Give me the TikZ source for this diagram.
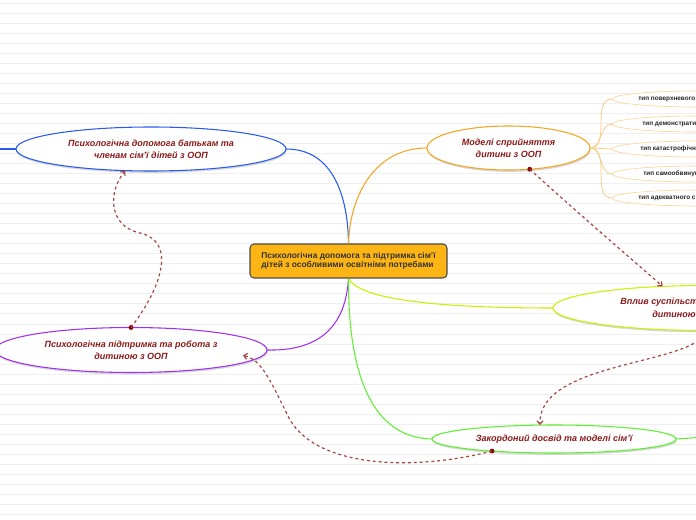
\documentclass[tikz,border=0pt]{standalone}
\usepackage{fontspec}
\setmainfont{Liberation Sans}
\usetikzlibrary{shapes.geometric,shadows,arrows.meta}
\definecolor{topicfill}{HTML}{FDB515}
\definecolor{topictext}{HTML}{8B1A1A}
\definecolor{relcol}{HTML}{A84444}
\definecolor{relpoint}{HTML}{8B0000}
\definecolor{brblue}{HTML}{2A5BF0}
\definecolor{brorange}{HTML}{F5A623}
\definecolor{brlime}{HTML}{CCF000}
\definecolor{brpurple}{HTML}{A030F0}
\definecolor{brgreen}{HTML}{5EF030}
\definecolor{paperline}{HTML}{EFEFEF}
\begin{document}
\begin{tikzpicture}[x=0.75pt,y=-0.75pt,
  topic/.style={ellipse,draw,fill=white,line width=0.8pt,inner sep=0pt,outer sep=0pt,align=center,
    text=topictext,font=\fontsize{6.75}{9}\selectfont\bfseries\itshape,
    drop shadow={shadow xshift=0.5pt,shadow yshift=-1.4pt,fill=black!30}},
  subtopic/.style={ellipse,draw=brorange!45,line width=0.5pt,fill=white,inner sep=0pt,outer sep=0pt,
    minimum width=127.5pt,minimum height=12pt},
  sublabel/.style={anchor=west,inner sep=0pt,font=\fontsize{4.8}{5.5}\selectfont\bfseries,text=black!85},
  topiclabel/.style={anchor=west,inner sep=0pt,text=topictext,font=\fontsize{6.75}{9}\selectfont\bfseries\itshape},
  branch/.style={line width=0.8pt},
  relation/.style={relcol,dash pattern=on 2.2pt off 2.2pt,line width=0.9pt,
    -{Straight Barb[length=2.5pt,width=4.5pt]}},
  startdot/.style={circle,fill=relpoint,inner sep=0pt,minimum size=3.6pt}]
\useasboundingbox (0,0) rectangle (696,520);
\clip (0,0) rectangle (696,520);
\fill[white] (0,0) rectangle (696,520);
\foreach \y in {4,14,...,514}
  \draw[paperline,line width=0.75pt] (0,\y) -- (696,\y);

% central topic
\node[rectangle,rounded corners=3pt,draw=black!70,fill=topicfill,line width=0.8pt,
  minimum width=147.75pt,minimum height=25.5pt,align=left,text=black!80,
  font=\fontsize{6.3}{7}\selectfont\bfseries] (main) at (348.5,261)
  {Психологічна допомога та підтримка сім'ї\\дітей з особливими освітніми потребами};

% main topics
\node[topic,draw=brblue,minimum width=202.5pt,minimum height=33pt] (parents) at (151,149)
  {Психологічна допомога батькам та\\членам сім'ї дітей з ООП};
\node[topic,draw=brorange,minimum width=122.25pt,minimum height=33pt] (models) at (508.5,148)
  {Моделі сприйняття\\дитини з ООП};
\node[topic,draw=brlime,minimum width=228pt,minimum height=33.75pt] (society) at (705,308) {};
\node[topiclabel] (societytop) at (620,302) {Вплив суспільст};
\node[topiclabel] (societybot) at (652,314) {дитиною};
\node[topic,draw=brpurple,minimum width=204pt,minimum height=33.75pt] (support) at (131,350)
  {Психологічна підтримка та робота з\\дитиною з ООП};
\node[topic,draw=brgreen,minimum width=183pt,minimum height=21pt] (abroad) at (554,439)
  {Закордоний досвід та моделі сім'ї};

% branches
\coordinate (bluefar) at (-10,149);
\coordinate (greenfar) at (706,437);
\draw[branch,brblue] (parents.east) .. controls (335,149) and (348,200) .. (main.north);
\draw[branch,brblue] (parents.west) -- (bluefar);
\draw[branch,brorange] (models.west) .. controls (375,148) and (350,195) .. (main.north);
\draw[branch,brlime] (main.south) .. controls (360,300) and (440,308) .. (society.west);
\draw[branch,brpurple] (main.south) .. controls (345,335) and (310,351) .. (support.east);
\draw[branch,brgreen] (main.south) .. controls (348,390) and (380,438) .. (abroad.west);
\draw[branch,brgreen] (abroad.east) -- (greenfar);

% subtopics of models
\foreach \y/\n/\t/\x in {99/sub1/тип поверхневого/638,124/sub2/тип демонстратив/642,
    149/sub3/тип катастрофічн/640,174/sub4/тип самообвинув/643,198/sub5/тип адекватного с/638}{
  \node[subtopic] (\n) at (697,\y) {};
  \node[sublabel] (\n txt) at (\x,\y) {\t};
  \draw[brorange!55,line width=0.6pt] (models.east) to[out=0,in=180] (\n.west);
}

% relations
\node[startdot] (dot1) at (support.north) {};
\draw[relation] (support.north) .. controls (160,290) and (178,242) .. (140,233)
  .. controls (108,226) and (108,192) .. (parents.220);
\node[startdot] (dot2) at (models.315) {};
\draw[relation] (models.315) .. controls (580,215) and (635,262) .. (society.153);
\draw[relation] (society.south) .. controls (700,365) and (538,360) .. (abroad.135);
\node[startdot] (dot4) at (abroad.191) {};
\draw[relation] (abroad.191) .. controls (420,470) and (320,470) .. (290,420)
  .. controls (270,380) and (262,360) .. ([xshift=-18pt,yshift=-4pt]support.east);
\end{tikzpicture}
\end{document}
